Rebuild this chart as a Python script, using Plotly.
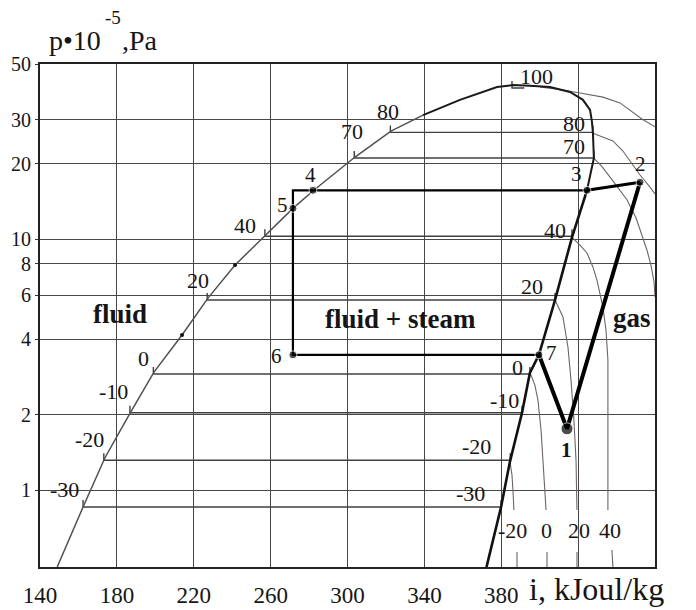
import numpy as np
import plotly.graph_objects as go

# ---------------- data (enthalpy i in kJ/kg, pressure p in 1e5 Pa) ----------------
# saturated liquid line (lower part)
H_LIQ = [149.0, 149.4, 162.4, 173.8, 186.8, 199.3, 213.9, 227.4, 241.5, 257.1, 271.6, 282.0, 303.9, 322.6, 339.3]
P_LIQ = [0.495, 0.505, 0.859, 1.35, 2.03, 2.96, 4.16, 5.84, 7.91, 10.4, 13.3, 15.6, 21.3, 27.0, 31.3]
# top of the dome and upper vapour line
H_TOP = [339.3, 358.5, 377.8, 386.1, 395.0, 405.3, 415.8, 422.5, 426.2, 427.2, 427.7, 428.2, 424.6]
P_TOP = [31.3, 36.0, 40.5, 41.2, 41.0, 40.5, 38.7, 36.0, 32.8, 29.4, 26.6, 21.1, 15.7]
# saturated vapour line (lower part)
H_VAP = [424.6, 416.8, 408.0, 399.6, 394.9, 390.8, 384.5, 379.9, 372.6, 372.3]
P_VAP = [15.7, 10.2, 5.74, 3.47, 2.94, 2.04, 1.30, 0.859, 0.505, 0.495]
# small marks on the liquid line
H_MARK = [213.9, 241.5]
P_MARK = [4.16, 7.91]

# isotherms in the two-phase region
T_SAT = [-30, -20, -10, 0, 20, 40, 70, 80, 100]
P_SAT = [0.859, 1.32, 2.04, 2.91, 5.74, 10.3, 21.1, 26.7, 40.1]
H_SAT_LIQ = [162.4, 173.2, 186.8, 199.0, 227.0, 257.0, 303.5, 322.3, 385.6]
H_SAT_VAP = [379.9, 384.7, 390.8, 394.9, 408.0, 416.8, 428.2, 427.7, 392.0]
# label positions of the two-phase isotherms (liquid side / vapour side)
LBL_LIQ_H = [152.5, 166.0, 178.5, 193.6, 222.2, 246.7, 302.3, 321.1, 398.1]
LBL_LIQ_P = [1.01, 1.59, 2.47, 3.34, 6.89, 11.4, 27.0, 32.2, 44.4]
LBL_VAP_T = [-30, -20, -10, 0, 20, 40, 70, 80]
LBL_VAP_H = [364.2, 366.9, 381.9, 388.2, 396.0, 408.0, 417.8, 417.8]
LBL_VAP_P = [0.968, 1.49, 2.29, 3.08, 6.47, 10.9, 23.4, 29.1]

# isotherms in the gas region
GAS_H = {
    100: [400.1, 409.0, 421.0, 432.9, 441.8, 447.0, 453.2, 460.0],
    80: [427.7, 432.9, 438.1, 443.3, 447.0, 452.1, 457.3, 460.0],
    70: [428.2, 432.4, 437.6, 445.4, 450.1, 453.2, 455.8, 457.9, 459.5, 460.0],
    40: [416.8, 421.0, 424.6, 427.7, 429.8, 432.9, 434.5, 435.5, 435.5, 435.5, None, 437.6, 438.1],
    20: [408.0, 412.1, 414.7, 416.3, 417.8, 418.9, 419.4, None, 419.4, 419.4],
    0: [395.0, 397.5, 399.1, 400.7, 401.7, 402.7, 403.3, None, 403.8, 403.8],
    -20: [384.5, 385.6, 386.1, 386.6, None, 388.2, 388.2],
}
GAS_P = {
    100: [40.5, 39.7, 38.3, 36.9, 35.0, 32.8, 30.2, 28.1],
    80: [26.5, 25.6, 24.7, 22.5, 20.5, 18.1, 16.2, 15.2],
    70: [21.1, 19.5, 17.3, 14.4, 12.2, 10.4, 9.08, 7.91, 6.77, 5.90],
    40: [10.2, 9.50, 8.83, 7.77, 6.89, 5.38, 4.36, 3.31, 1.91, 0.836, None, 0.579, 0.496],
    20: [5.74, 4.91, 3.73, 2.75, 1.91, 1.32, 0.836, None, 0.569, 0.496],
    0: [2.94, 2.63, 2.29, 1.74, 1.32, 1.00, 0.836, None, 0.569, 0.496],
    -20: [1.31, 1.15, 1.00, 0.836, None, 0.569, 0.496],
}
GAS_RIGHT_T = [100, 80, 70]
GAS_RIGHT_H = [470.9, 467.8, 468.3]
GAS_RIGHT_P = [27.3, 14.4, 5.05]
GAS_BOTTOM_T = [-20, 0, 20, 40]
GAS_BOTTOM_H = [386.1, 403.3, 420.4, 436.6]
GAS_BOTTOM_P = 0.695

# refrigeration cycle points 1..7
CYCLE_LABELS = ["1", "2", "3", "4", "5", "6", "7"]
CYCLE_H = [414.2, 452.2, 424.6, 282.0, 271.6, 271.6, 399.6]
CYCLE_P = [1.76, 16.9, 15.7, 15.7, 13.3, 3.47, 3.47]

# region names
REGION_TEXT = ["fluid", "fluid + steam", "gas"]
REGION_H = [181.6, 327.8, 448.0]
REGION_P = [5.05, 4.82, 4.86]

X_TICKS = [140, 180, 220, 260, 300, 340, 380]
X_EXTRA_GRID = [420]
Y_TICKS = [1, 2, 4, 6, 8, 10, 20, 30, 50]

# ---------------- figure ----------------
FONT = "Liberation Serif"
TXT = "#151515"
GRID = "#474747"
fig = go.Figure()


def add_line(x, y, color, width):
    fig.add_trace(go.Scatter(x=x, y=y, mode="lines", line=dict(color=color, width=width),
                             hoverinfo="skip", showlegend=False, connectgaps=False))


# two-phase isotherms with small end ticks
xs, ys = [], []
for hl, hv, p in zip(H_SAT_LIQ, H_SAT_VAP, P_SAT):
    if hv - hl > 20:
        xs += [hl, hl, hv, hv, None]
        ys += [p * 1.066, p, p, p * 1.066, None]
    else:
        xs += [hl, hl, hv, None]
        ys += [p * 1.066, p, p, None]
add_line(xs, ys, "#404040", 1.4)

# gas isotherms
for t in GAS_H:
    add_line(GAS_H[t], GAS_P[t], "#6e6464", 1.1)

# saturation dome
add_line(H_LIQ, P_LIQ, "#505050", 1.5)
add_line(H_TOP, P_TOP, "#1a1a1a", 2.0)
add_line(H_VAP, P_VAP, "#111111", 2.6)
fig.add_trace(go.Scatter(x=H_MARK, y=P_MARK, mode="markers", marker=dict(color="#111", size=4),
                         hoverinfo="skip", showlegend=False))

# cycle
h = dict(zip(CYCLE_LABELS, CYCLE_H))
p = dict(zip(CYCLE_LABELS, CYCLE_P))
add_line([h["3"], h["4"], h["5"], h["5"], h["6"], h["7"]],
         [p["3"], p["4"], p["4"], p["5"], p["6"], p["7"]], "#000000", 2.2)
add_line([h["7"], h["1"], h["2"]], [p["7"], p["1"], p["2"]], "#000000", 4.0)
add_line([h["2"], h["3"]], [p["2"], p["3"]], "#000000", 3.0)
sizes = [12 if c == "1" else 8 for c in CYCLE_LABELS]
fig.add_trace(go.Scatter(x=CYCLE_H, y=CYCLE_P, mode="markers",
                         marker=dict(color="#000", size=sizes), hoverinfo="skip", showlegend=False))

ann = []


def label(x, y, text, size, xshift=0, yshift=0, bold=False, xref="x", yref="y", xanchor="center"):
    yy = np.log10(y) if yref == "y" else y
    ann.append(dict(x=x, y=yy, xref=xref, yref=yref, text=f"<b>{text}</b>" if bold else text,
                    showarrow=False, xanchor=xanchor, yanchor="middle", xshift=xshift, yshift=yshift,
                    font=dict(family=FONT, size=size, color=TXT)))


for t, hh, pp in zip(T_SAT, LBL_LIQ_H, LBL_LIQ_P):
    label(hh, pp, str(t), 22)
for t, hh, pp in zip(LBL_VAP_T, LBL_VAP_H, LBL_VAP_P):
    label(hh, pp, str(t), 22)
for t, hh, pp in zip(GAS_RIGHT_T, GAS_RIGHT_H, GAS_RIGHT_P):
    label(hh, pp, str(t), 22)
for t, hh in zip(GAS_BOTTOM_T, GAS_BOTTOM_H):
    label(hh, GAS_BOTTOM_P, str(t), 22)

offsets = {"1": (0, -21), "2": (0, 18), "3": (-10, 16), "4": (-2, 15),
           "5": (-10, 3), "6": (-16, -1), "7": (13, 2)}
for c, hh, pp in zip(CYCLE_LABELS, CYCLE_H, CYCLE_P):
    dx, dy = offsets[c]
    label(hh, pp, c, 21, xshift=dx, yshift=dy, bold=(c == "1"))

for t, hh, pp in zip(REGION_TEXT, REGION_H, REGION_P):
    label(hh, pp, t, 27, bold=True)

# axis titles: "p·10" , raised "-5", ",Pa"
label(0.0114, 1.0477, "p\u202210", 28, xref="paper", yref="paper", xanchor="left")
label(0.1024, 1.0915, "-5", 19, xref="paper", yref="paper", xanchor="left")
label(0.1301, 1.0477, ",Pa", 28, xref="paper", yref="paper", xanchor="left")
label(0.7919, -0.0437, "i, kJoul/kg", 32, xref="paper", yref="paper", xanchor="left")

# the page body adds an 8px offset, so the figure is 8px smaller and margins shifted
fig.update_layout(
    width=688, height=602,
    margin=dict(l=32, r=41, t=56, b=43),
    paper_bgcolor="white", plot_bgcolor="white",
    annotations=ann,
    xaxis=dict(range=[140, 460], tickvals=X_TICKS, ticktext=[str(v) for v in X_TICKS],
               automargin=False,
               showgrid=True, gridcolor=GRID, gridwidth=1.4, zeroline=False,
               minor=dict(tickvals=X_EXTRA_GRID, showgrid=True, gridcolor=GRID, gridwidth=1.4,
                          ticks=""),
               showline=True, linecolor="#222", linewidth=1.8, mirror=True,
               ticks="outside", ticklen=6, tickcolor="rgba(0,0,0,0)",
               tickfont=dict(family=FONT, size=23, color=TXT)),
    yaxis=dict(type="log", range=[-0.305, 1.699], tickvals=Y_TICKS,
               ticktext=[str(v) for v in Y_TICKS], automargin=False,
               showgrid=True, gridcolor=GRID, gridwidth=1.4, zeroline=False,
               showline=True, linecolor="#222", linewidth=1.8, mirror=True,
               ticks="outside", ticklen=3, tickcolor="#333",
               tickfont=dict(family=FONT, size=20, color=TXT)),
)

fig.write_html("out.html")
